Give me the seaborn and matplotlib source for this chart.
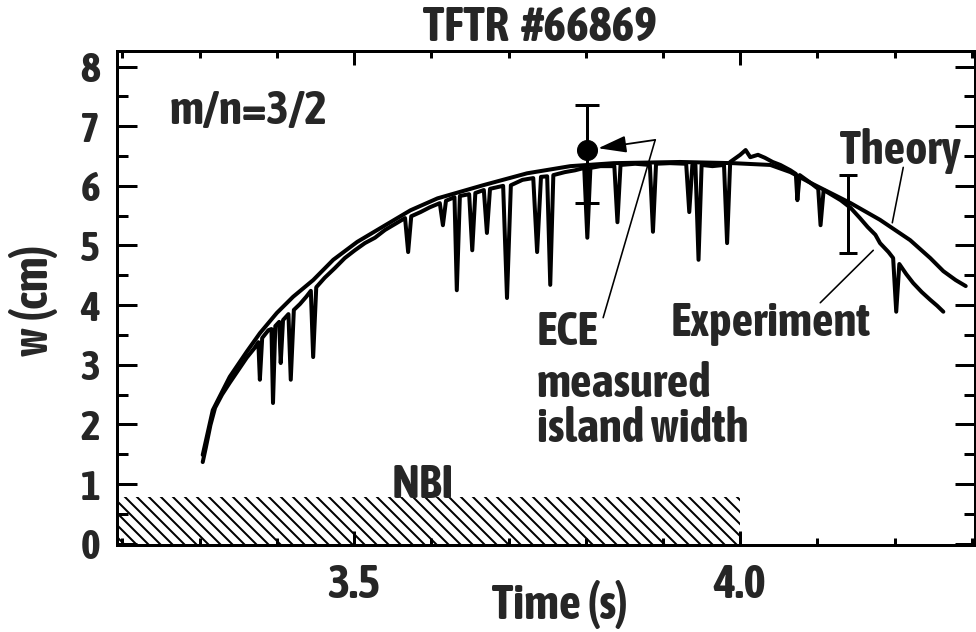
import numpy as np
import pandas as pd
import matplotlib
matplotlib.use("Agg")
import matplotlib.pyplot as plt
import seaborn as sns
from matplotlib import font_manager as fm

# ---------------- data ----------------
theory_t = [3.304, 3.317, 3.339, 3.361, 3.378, 3.400, 3.421, 3.447, 3.473, 3.504,
            3.530, 3.573, 3.608, 3.667, 3.724, 3.780, 3.836, 3.922, 3.991, 4.039,
            4.065, 4.091, 4.143, 4.181, 4.220, 4.246, 4.263, 4.279, 4.292]
theory_w = [1.49, 2.24, 2.80, 3.22, 3.53, 3.87, 4.14, 4.42, 4.76, 5.06,
            5.26, 5.59, 5.79, 6.01, 6.21, 6.33, 6.38, 6.40, 6.38, 6.35,
            6.23, 6.05, 5.71, 5.43, 5.09, 4.79, 4.57, 4.42, 4.32]

exp_t = [3.304, 3.308, 3.314, 3.320, 3.329, 3.339, 3.350, 3.361, 3.371, 3.376,
         3.378, 3.381, 3.389, 3.393, 3.395, 3.398, 3.403, 3.405, 3.408, 3.415,
         3.418, 3.422, 3.430, 3.438, 3.444, 3.447, 3.451, 3.462, 3.475, 3.488,
         3.501, 3.514, 3.527, 3.540, 3.553, 3.566, 3.570, 3.574, 3.586, 3.598,
         3.611, 3.615, 3.619, 3.630, 3.633, 3.637, 3.649, 3.653, 3.657, 3.668,
         3.672, 3.676, 3.693, 3.698, 3.703, 3.718, 3.732, 3.737, 3.742, 3.750,
         3.754, 3.758, 3.773, 3.786, 3.798, 3.802, 3.806, 3.819, 3.837, 3.841,
         3.845, 3.864, 3.883, 3.887, 3.891, 3.909, 3.930, 3.934, 3.938, 3.942,
         3.946, 3.950, 3.964, 3.979, 3.983, 3.987, 4.000, 4.007, 4.013, 4.023,
         4.032, 4.042, 4.052, 4.065, 4.072, 4.074, 4.077, 4.091, 4.101, 4.104,
         4.108, 4.130, 4.143, 4.155, 4.165, 4.175, 4.181, 4.192, 4.198, 4.202,
         4.206, 4.215, 4.224, 4.235, 4.246, 4.255, 4.263]
exp_w = [1.37, 1.61, 1.99, 2.28, 2.50, 2.70, 2.91, 3.12, 3.28, 3.38,
         2.75, 3.45, 3.58, 3.60, 2.36, 3.65, 3.72, 3.03, 3.75, 3.85,
         2.75, 3.92, 4.02, 4.14, 4.24, 3.13, 4.30, 4.46, 4.62, 4.79,
         4.92, 5.04, 5.13, 5.26, 5.36, 5.46, 4.89, 5.49, 5.56, 5.64,
         5.71, 5.34, 5.75, 5.81, 4.25, 5.83, 5.86, 4.92, 5.88, 5.93,
         5.21, 5.95, 6.00, 4.12, 6.01, 6.10, 6.13, 4.89, 6.15, 6.16,
         4.34, 6.18, 6.23, 6.26, 6.30, 5.13, 6.30, 6.33, 6.33, 5.39,
         6.35, 6.37, 6.35, 5.23, 6.37, 6.38, 6.37, 5.56, 6.35, 6.35,
         4.76, 6.35, 6.33, 6.35, 5.04, 6.40, 6.52, 6.60, 6.48, 6.52,
         6.47, 6.40, 6.35, 6.26, 6.20, 5.76, 6.18, 6.05, 5.95, 5.34,
         5.93, 5.76, 5.63, 5.46, 5.31, 5.18, 5.04, 4.89, 4.79, 3.89,
         4.69, 4.52, 4.37, 4.22, 4.09, 3.99, 3.89]

# ECE measured island widths (with error bars)
ece_t = [3.802, 4.140]
ece_w = [6.60, 5.53]
ece_err_lo = [0.89, 0.66]
ece_err_hi = [0.75, 0.66]

# NBI heating interval
nbi_t = [3.10, 4.00]
nbi_level = 0.79

xticks_major = [3.5, 4.0]
xtick_labels = ["3.5", "4.0"]
yticks_major = [0, 1, 2, 3, 4, 5, 6, 7, 8]

# ---------------- style ----------------
sns.set_theme(style="ticks")


def weight_num(w):
    if isinstance(w, (int, float)):
        return int(w)
    return {"bold": 700, "heavy": 800, "black": 900, "extra bold": 800,
            "semibold": 600, "demibold": 600, "ultrabold": 800,
            "demi": 600}.get(str(w).lower(), 400)


def pick_font():
    entries = fm.fontManager.ttflist
    names = {f.name for f in entries}
    if "Liberation Sans Narrow" in names:
        return "Liberation Sans Narrow", "normal"
    cands = []
    for f in entries:
        n = f.name
        st = str(f.stretch).lower()
        condensed = ("Condensed" in n or "Narrow" in n
                     or st in ("condensed", "semi-condensed"))
        if (condensed and "Mono" not in n and "Serif" not in n and "CJK" not in n
                and weight_num(f.weight) == 700 and f.style == "normal"):
            cands.append(f)
    if cands:
        cands.sort(key=lambda f: (0 if str(f.stretch).lower() == "condensed"
                                  or "Condensed" in f.name else 1, f.name))
        f = cands[0]
        return f.name, f.stretch
    return "Liberation Sans", "normal"


FONT, STRETCH = pick_font()
plt.rcParams["font.family"] = [FONT, "DejaVu Sans"]
plt.rcParams["font.stretch"] = STRETCH
plt.rcParams["font.weight"] = "bold"
plt.rcParams["hatch.linewidth"] = 2.0
plt.rcParams["hatch.color"] = "black"

DPI = 72
W, H = 976, 632
fig = plt.figure(figsize=(W / DPI, H / DPI), dpi=DPI)
fig.patch.set_facecolor("white")

# scale font sizes so that text widths match the (condensed) reference lettering
renderer = fig.canvas.get_renderer()
probe = fig.text(0, 0, "island width", fontsize=45, fontweight="bold")
k = min(1.05, 215.0 / probe.get_window_extent(renderer).width)
probe.remove()

L, R, T, B = 117, 975, 51, 545
ax = fig.add_axes([L / W, 1 - B / H, (R - L) / W, (B - T) / H])
ax.set_facecolor("white")

# NBI hatched bar
ax.fill_between(nbi_t, 0, nbi_level, facecolor="none", edgecolor="black",
                hatch="\\\\", linewidth=0)

theory_df = pd.DataFrame({"t": theory_t, "w": theory_w})
exp_df = pd.DataFrame({"t": exp_t, "w": exp_w})
sns.lineplot(data=theory_df, x="t", y="w", ax=ax, color="black", lw=4,
             sort=False, estimator=None)
sns.lineplot(data=exp_df, x="t", y="w", ax=ax, color="black", lw=4,
             sort=False, estimator=None)

# error bars
ax.errorbar(ece_t[0], ece_w[0], yerr=[[ece_err_lo[0]], [ece_err_hi[0]]], fmt="o",
            color="black", ms=20, elinewidth=3, capsize=12, capthick=3)
ax.errorbar(ece_t[1], ece_w[1], yerr=[[ece_err_lo[1]], [ece_err_hi[1]]], fmt="none",
            ecolor="black", elinewidth=3, capsize=9, capthick=3)

# annotations
FS = 45 * k
ax.text(3.2617, 7.64, "m/n=3/2", fontsize=FS, fontweight="bold", va="top", ha="left")
ax.text(4.1295, 6.97, "Theory", fontsize=FS, fontweight="bold", va="top", ha="left")
ax.text(3.9093, 4.09, "Experiment", fontsize=FS, fontweight="bold", va="top", ha="left")
ax.text(3.737, 3.333, "ECE", fontsize=FS, fontweight="bold", va="baseline", ha="left")
ax.text(3.737, 2.462, "measured", fontsize=FS, fontweight="bold", va="baseline", ha="left")
ax.text(3.737, 1.709, "island width", fontsize=FS, fontweight="bold", va="baseline",
        ha="left")
ax.text(3.549, 1.37, "NBI", fontsize=FS, fontweight="bold", va="top", ha="left")

# leader lines
ax.plot([4.2111, 4.1969], [6.31, 5.38], color="black", lw=1.6)
ax.plot([4.1723, 4.1036], [4.92, 4.04], color="black", lw=1.6)
ax.plot([3.8899, 3.8225], [6.77, 3.79], color="black", lw=1.6)
ax.annotate("", xy=(3.8161, 6.63), xytext=(3.8899, 6.77),
            arrowprops=dict(arrowstyle="-|>,head_length=1.0,head_width=0.3",
                            color="black", lw=1.8, mutation_scale=24,
                            shrinkA=0, shrinkB=0))

# axes
ax.set_xlim(3.193, 4.304)
ax.set_ylim(-0.02, 8.26)
ax.set_xticks(xticks_major)
ax.set_xticklabels(xtick_labels)
ax.set_xticks(np.arange(3.2, 4.31, 0.1), minor=True)
ax.set_yticks(yticks_major)
ax.set_yticklabels([str(v) for v in yticks_major])
ax.set_yticks(np.arange(0.5, 8.5, 1.0), minor=True)

ax.tick_params(which="both", direction="in", top=True, right=True, width=3,
               color="black")
ax.tick_params(axis="x", which="major", length=14, labelsize=45 * k, pad=17)
ax.tick_params(axis="x", which="minor", length=7)
ax.tick_params(axis="y", which="major", length=20, labelsize=40 * k, pad=17)
ax.tick_params(axis="y", which="minor", length=11)
for lab in ax.get_xticklabels() + ax.get_yticklabels():
    lab.set_fontweight("bold")

for s in ax.spines.values():
    s.set_linewidth(3)
    s.set_color("black")
    s.set_visible(True)

ax.set_xlabel("Time (s)", fontsize=46 * k, fontweight="bold")
ax.set_ylabel("w (cm)", fontsize=46 * k, fontweight="bold")
ax.xaxis.label.set_verticalalignment("baseline")
ax.xaxis.set_label_coords(0.516, -0.150)
ax.yaxis.set_label_coords(-0.069, 0.496)

ax.set_title("TFTR  #66869", fontsize=46 * k, fontweight="bold", pad=5)
ax.title.set_x(0.493)

fig.savefig("out.png", dpi=DPI, facecolor="white")
